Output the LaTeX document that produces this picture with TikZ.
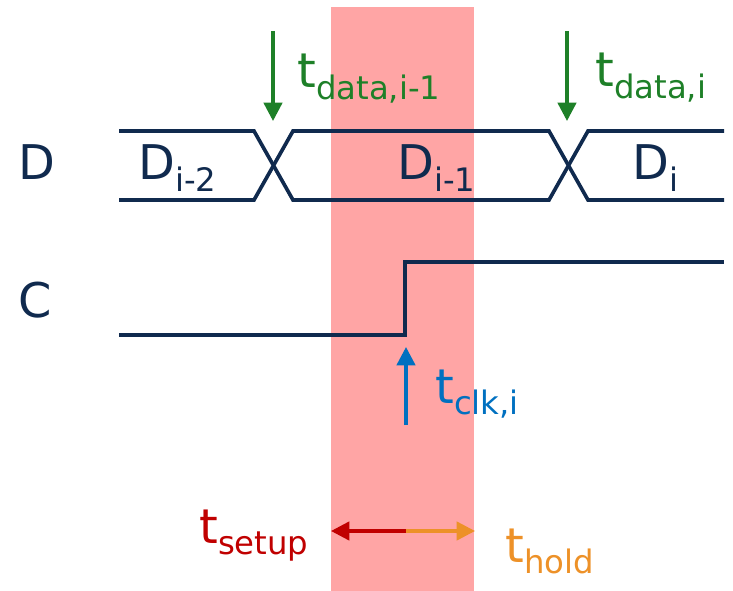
\documentclass[tikz,border=0pt]{standalone}
\usepackage{fontspec}
\setmainfont{DejaVu Sans}
\usetikzlibrary{arrows.meta}

\definecolor{wire}{RGB}{16,42,78}
\definecolor{datagreen}{RGB}{30,128,40}
\definecolor{clkblue}{RGB}{0,112,192}
\definecolor{setupred}{RGB}{192,0,0}
\definecolor{holdorange}{RGB}{237,145,40}
\definecolor{winpink}{RGB}{255,165,165}

% symbol with a lowered index
\newcommand{\sublbl}[2]{#1\raisebox{-8.5pt}{\fontsize{23}{23}\selectfont #2}}

\tikzset{
  signal/.style={line width=2.6pt, color=wire, line join=miter},
  lbl/.style={inner sep=0pt, anchor=base west, font=\fontsize{34}{34}\selectfont},
  marker/.style={line width=2.4pt, -{Triangle[length=13pt,width=13pt]}},
}

\begin{document}
\begin{tikzpicture}[x=0.025cm,y=-0.025cm]
        \useasboundingbox (0,0) rectangle (733,591);

        % setup/hold window
        \fill[winpink] (331,7) rectangle (474,591);

        % signal names
        \node[lbl, text=wire] (nameD) at (18,180) {D};
        \node[lbl, text=wire] (nameC) at (18,317) {C};

        % data bus
        \draw[signal] (119,131) -- (254,131) -- (293,200) -- (549,200) -- (588,131) -- (724,131);
        \draw[signal] (119,200) -- (254,200) -- (293,131) -- (549,131) -- (588,200) -- (724,200);

        % data values
        \node[lbl, text=wire] (dA) at (138,180) {\sublbl{D}{i-2}};
        \node[lbl, text=wire] (dB) at (397,180) {\sublbl{D}{i-1}};
        \node[lbl, text=wire] (dC) at (632,180) {\sublbl{D}{i}};

        % data change
        \coordinate (fromA) at (273,31);
        \coordinate (crossA) at (273,121);
        \coordinate (fromB) at (567,31);
        \coordinate (crossB) at (567,121);
        \draw[marker, datagreen] (fromA) -- (crossA);
        \draw[marker, datagreen] (fromB) -- (crossB);
        \node[lbl, text=datagreen] (tdataA) at (297,88) {\sublbl{t}{data,i-1}};
        \node[lbl, text=datagreen] (tdataB) at (595,87) {\sublbl{t}{data,i}};

        % clock
        \draw[signal] (119,335) -- (405,335) -- (405,262) -- (724,262);

        % clock edge
        \coordinate (fromClk) at (406,425);
        \coordinate (edgeClk) at (406,347);
        \draw[marker, clkblue] (fromClk) -- (edgeClk);
        \node[lbl, text=clkblue] (tclk) at (435,403) {\sublbl{t}{clk,i}};

        % setup and hold
        \coordinate (winMid) at (406,531);
        \coordinate (winL) at (331,531);
        \coordinate (winR) at (475,531);
        \draw[marker, setupred] (winMid) -- (winL);
        \draw[marker, holdorange] (winMid) -- (winR);
        \node[lbl, text=setupred] (tsetup) at (199,543) {\sublbl{t}{setup}};
        \node[lbl, text=holdorange] (thold) at (505,562) {\sublbl{t}{hold}};
    \end{tikzpicture}
\end{document}
